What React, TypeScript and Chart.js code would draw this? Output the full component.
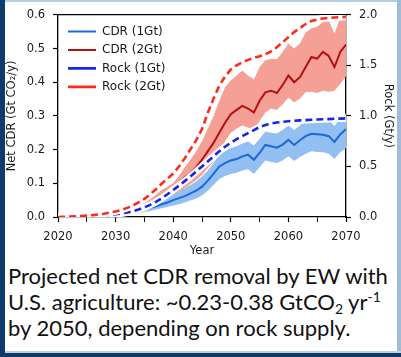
import React, { useEffect, useRef } from 'react';
import { Chart, registerables } from 'chart.js';
Chart.register(...registerables);

const years = [2020, 2021, 2022, 2023, 2024, 2025, 2026, 2027, 2028, 2029, 2030, 2031, 2032, 2033, 2034, 2035, 2036, 2037, 2038, 2039, 2040, 2041, 2042, 2043, 2044, 2045, 2046, 2047, 2048, 2049, 2050, 2051, 2052, 2053, 2054, 2055, 2056, 2057, 2058, 2059, 2060, 2061, 2062, 2063, 2064, 2065, 2066, 2067, 2068, 2069, 2070];

// Net CDR (Gt CO2/y), left axis
const cdr1 = [0.000, 0.000, 0.001, 0.001, 0.002, 0.002, 0.003, 0.004, 0.005, 0.006, 0.008, 0.010, 0.012, 0.015, 0.018, 0.022, 0.027, 0.032, 0.038, 0.043, 0.050, 0.056, 0.062, 0.070, 0.078, 0.090, 0.108, 0.128, 0.150, 0.160, 0.168, 0.172, 0.180, 0.185, 0.170, 0.190, 0.214, 0.210, 0.206, 0.215, 0.229, 0.214, 0.228, 0.240, 0.247, 0.246, 0.244, 0.240, 0.223, 0.245, 0.261];
const cdr1Lo = [0.000, 0.000, 0.000, 0.001, 0.001, 0.001, 0.002, 0.002, 0.003, 0.004, 0.005, 0.006, 0.008, 0.010, 0.012, 0.015, 0.018, 0.022, 0.026, 0.030, 0.034, 0.038, 0.043, 0.049, 0.055, 0.064, 0.078, 0.095, 0.113, 0.122, 0.128, 0.131, 0.138, 0.142, 0.128, 0.148, 0.168, 0.163, 0.160, 0.168, 0.180, 0.166, 0.178, 0.188, 0.195, 0.193, 0.192, 0.188, 0.172, 0.192, 0.205];
const cdr1Hi = [0.000, 0.001, 0.002, 0.002, 0.003, 0.004, 0.005, 0.006, 0.008, 0.010, 0.012, 0.015, 0.018, 0.022, 0.026, 0.031, 0.037, 0.043, 0.050, 0.057, 0.066, 0.075, 0.085, 0.095, 0.106, 0.120, 0.138, 0.160, 0.185, 0.196, 0.205, 0.210, 0.218, 0.224, 0.212, 0.232, 0.254, 0.250, 0.248, 0.258, 0.272, 0.258, 0.272, 0.285, 0.292, 0.292, 0.290, 0.288, 0.270, 0.292, 0.308];
const cdr2 = [0.000, 0.000, 0.001, 0.002, 0.002, 0.003, 0.004, 0.005, 0.007, 0.009, 0.011, 0.014, 0.017, 0.021, 0.026, 0.032, 0.040, 0.050, 0.062, 0.070, 0.075, 0.100, 0.118, 0.130, 0.148, 0.170, 0.195, 0.220, 0.250, 0.280, 0.305, 0.318, 0.330, 0.322, 0.310, 0.345, 0.370, 0.375, 0.368, 0.392, 0.420, 0.400, 0.415, 0.445, 0.475, 0.470, 0.490, 0.478, 0.445, 0.490, 0.512];
const cdr2Lo = [0.000, 0.000, 0.001, 0.001, 0.001, 0.002, 0.003, 0.004, 0.005, 0.006, 0.008, 0.010, 0.012, 0.015, 0.019, 0.024, 0.030, 0.038, 0.046, 0.052, 0.058, 0.070, 0.086, 0.098, 0.110, 0.125, 0.145, 0.165, 0.195, 0.225, 0.250, 0.262, 0.272, 0.266, 0.258, 0.285, 0.310, 0.322, 0.318, 0.335, 0.355, 0.340, 0.352, 0.370, 0.372, 0.368, 0.375, 0.372, 0.375, 0.395, 0.418];
const cdr2Hi = [0.000, 0.001, 0.002, 0.003, 0.004, 0.005, 0.006, 0.008, 0.010, 0.013, 0.016, 0.020, 0.024, 0.029, 0.035, 0.043, 0.053, 0.066, 0.080, 0.090, 0.100, 0.122, 0.148, 0.170, 0.195, 0.225, 0.262, 0.300, 0.345, 0.385, 0.405, 0.420, 0.435, 0.420, 0.408, 0.445, 0.465, 0.470, 0.468, 0.490, 0.515, 0.500, 0.515, 0.548, 0.560, 0.565, 0.580, 0.585, 0.545, 0.592, 0.600];
// Rock supply (Gt/y), right axis
const rock1 = [0.000, 0.001, 0.002, 0.003, 0.004, 0.006, 0.008, 0.011, 0.015, 0.020, 0.027, 0.035, 0.045, 0.058, 0.075, 0.095, 0.120, 0.150, 0.185, 0.225, 0.268, 0.310, 0.355, 0.400, 0.450, 0.500, 0.550, 0.600, 0.650, 0.695, 0.735, 0.770, 0.800, 0.830, 0.860, 0.890, 0.910, 0.925, 0.935, 0.942, 0.948, 0.952, 0.956, 0.959, 0.962, 0.965, 0.967, 0.969, 0.972, 0.974, 0.976];
const rock2 = [0.000, 0.002, 0.004, 0.007, 0.010, 0.014, 0.019, 0.025, 0.033, 0.043, 0.055, 0.070, 0.090, 0.115, 0.145, 0.180, 0.225, 0.275, 0.330, 0.380, 0.430, 0.500, 0.580, 0.670, 0.760, 0.870, 1.030, 1.170, 1.300, 1.390, 1.460, 1.500, 1.530, 1.555, 1.575, 1.590, 1.610, 1.640, 1.680, 1.730, 1.780, 1.830, 1.870, 1.910, 1.940, 1.955, 1.965, 1.970, 1.975, 1.978, 1.980];

const leftTicks = [0, 0.1, 0.2, 0.3, 0.4, 0.5, 0.6];
const rightTicks = [0, 0.5, 1.0, 1.5, 2.0];
const legendNames = ['CDR (1Gt)', 'CDR (2Gt)', 'Rock (1Gt)', 'Rock (2Gt)'];

const pts = (vals: number[]) => years.map((y, i) => ({ x: y, y: vals[i] }));

const FONT = 'DejaVu Sans';
const TXT = '#1a1a1a';

export default function App() {
  const ref = useRef<HTMLCanvasElement | null>(null);
  useEffect(() => {
    if (!ref.current) return;
    const base = { pointRadius: 0, tension: 0, fill: false as any };
    const chart = new Chart(ref.current, {
      type: 'line',
      data: {
        datasets: [
          { ...base, label: 'CDR (1Gt)', data: pts(cdr1), borderColor: '#1c68d8', borderWidth: 2, yAxisID: 'y', order: 5 },
          { ...base, label: 'CDR (2Gt)', data: pts(cdr2), borderColor: '#b50f10', borderWidth: 2, yAxisID: 'y', order: 4 },
          { ...base, label: 'Rock (1Gt)', data: pts(rock1), borderColor: '#1426e8', borderWidth: 2.6, borderDash: [7, 4], yAxisID: 'yR', order: 2 },
          { ...base, label: 'Rock (2Gt)', data: pts(rock2), borderColor: '#ff2a18', borderWidth: 2.6, borderDash: [7, 4], yAxisID: 'yR', order: 0 },
          { ...base, label: 'halo1', data: pts(rock1), borderColor: '#ffffff', borderWidth: 7, yAxisID: 'yR', order: 3 },
          { ...base, label: 'halo2', data: pts(rock2), borderColor: '#ffffff', borderWidth: 7, yAxisID: 'yR', order: 1 },
          { ...base, label: 'b1hi', data: pts(cdr1Hi), borderWidth: 0, borderColor: 'rgba(0,0,0,0)', backgroundColor: '#93bff3', fill: { target: 7 }, yAxisID: 'y', order: 6 },
          { ...base, label: 'b1lo', data: pts(cdr1Lo), borderWidth: 0, borderColor: 'rgba(0,0,0,0)', yAxisID: 'y', order: 7 },
          { ...base, label: 'b2hi', data: pts(cdr2Hi), borderWidth: 0, borderColor: 'rgba(0,0,0,0)', backgroundColor: '#f4a097', fill: { target: 9 }, yAxisID: 'y', order: 8 },
          { ...base, label: 'b2lo', data: pts(cdr2Lo), borderWidth: 0, borderColor: 'rgba(0,0,0,0)', yAxisID: 'y', order: 9 },
        ],
      },
      options: {
        animation: false,
        responsive: false,
        devicePixelRatio: 1,
        layout: { padding: { top: 10, left: 0, right: 0, bottom: 0 } },
        plugins: {
          tooltip: { enabled: false },
          legend: {
            position: 'chartArea' as any,
            align: 'start',
            labels: {
              usePointStyle: true,
              pointStyle: 'line',
              pointStyleWidth: 28,
              padding: 6.5,
              color: TXT,
              font: { family: FONT, size: 12 },
              filter: (item: any) => legendNames.includes(item.text),
              sort: (a: any, b: any) => legendNames.indexOf(a.text) - legendNames.indexOf(b.text),
            },
          },
        },
        scales: {
          x: {
            type: 'linear',
            min: 2020,
            max: 2070,
            afterFit: (s: any) => { s.height = 45; },
            ticks: {
              stepSize: 5,
              autoSkip: false,
              maxRotation: 0,
              padding: 8,
              color: TXT,
              font: { family: FONT, size: 11.5 },
              callback: (v: any) => (Number(v) % 10 === 0 ? String(v) : ''),
            },
            grid: {
              drawOnChartArea: false,
              tickLength: 5,
              tickColor: '#000',
              tickWidth: (c: any) => (c.tick && c.tick.value % 10 === 0 ? 1.2 : 0.9),
            },
            border: { display: true, color: '#000', width: 1.3 },
            title: { display: true, text: 'Year', color: TXT, font: { family: FONT, size: 11.5 }, padding: { top: 0, bottom: 4 } },
          },
          xTop: {
            type: 'linear',
            position: 'top',
            min: 2020,
            max: 2070,
            afterFit: (s: any) => { s.height = 0; },
            ticks: { display: false },
            grid: { display: true, drawOnChartArea: false, drawTicks: false },
            border: { display: true, color: '#000', width: 1.3 },
          },
          y: {
            type: 'linear',
            position: 'left',
            min: 0,
            max: 0.6,
            afterFit: (s: any) => { s.width = 58; },
            afterBuildTicks: (s: any) => { s.ticks = leftTicks.map((v) => ({ value: v })); },
            ticks: {
              padding: 8,
              color: TXT,
              font: { family: FONT, size: 11.5 },
              callback: (v: any) => Number(v).toFixed(1),
            },
            grid: { drawOnChartArea: false, tickLength: 5, tickColor: '#000', tickWidth: 1.2 },
            border: { display: true, color: '#000', width: 1.3 },
            title: { display: true, text: 'Net CDR (Gt CO₂/y)', color: TXT, font: { family: FONT, size: 11.5 }, padding: { top: 5, bottom: 0 } },
          },
          yR: {
            type: 'linear',
            position: 'right',
            min: 0,
            max: 2,
            afterFit: (s: any) => { s.width = 55; },
            afterBuildTicks: (s: any) => { s.ticks = rightTicks.map((v) => ({ value: v })); },
            ticks: {
              padding: 8,
              color: TXT,
              font: { family: FONT, size: 11.5 },
              callback: (v: any) => Number(v).toFixed(1),
            },
            grid: { drawOnChartArea: false, tickLength: 5, tickColor: '#000', tickWidth: 1.2 },
            border: { display: true, color: '#000', width: 1.3 },
            title: { display: true, text: 'Rock (Gt/y)', color: TXT, font: { family: FONT, size: 11.5 }, padding: { top: 6, bottom: 0 } },
          },
        },
      },
      plugins: [
        {
          id: 'legendNudge',
          afterLayout(c: any) {
            const lg = c.legend;
            const ca = c.chartArea;
            if (lg && ca) {
              lg.left = ca.left + 3.5;
              lg.top = ca.top + 4;
              lg.bottom = ca.bottom;
            }
          },
        },
      ],
    } as any);
    return () => chart.destroy();
  }, []);

  return (
    <div style={{ position: 'absolute', left: 0, top: 0, width: 401, height: 357, background: '#ffffff', overflow: 'hidden' }}>
      <canvas ref={ref} width={401} height={262} style={{ position: 'absolute', left: 0, top: 0, width: 401, height: 262 }} />
      <div
        style={{
          position: 'absolute',
          left: 8,
          top: 263,
          fontFamily: 'Lato, "Open Sans", sans-serif',
          fontSize: 22,
          lineHeight: '26px',
          color: '#111',
          whiteSpace: 'nowrap',
        }}
      >
        Projected net CDR removal by EW with
        <br />
        U.S. agriculture: ~0.23-0.38 GtCO
        <sub style={{ fontSize: 14, verticalAlign: -4, lineHeight: 0 }}>2</sub> yr
        <sup style={{ fontSize: 14, verticalAlign: 8, lineHeight: 0 }}>-1</sup>
        <br />
        by 2050, depending on rock supply.
      </div>
      <div style={{ position: 'absolute', left: 0, top: 0, width: 5, height: 357, background: '#0d3b6c' }} />
      <div style={{ position: 'absolute', left: 5, top: 0, width: 396, height: 2, background: '#b3cde3' }} />
      <div style={{ position: 'absolute', left: 397, top: 0, width: 4, height: 357, background: '#9dbdd9' }} />
      <div style={{ position: 'absolute', left: 5, top: 351, width: 396, height: 2, background: '#c9ccd0' }} />
      <div style={{ position: 'absolute', left: 0, top: 353, width: 401, height: 4, background: '#0d3b6c' }} />
    </div>
  );
}
